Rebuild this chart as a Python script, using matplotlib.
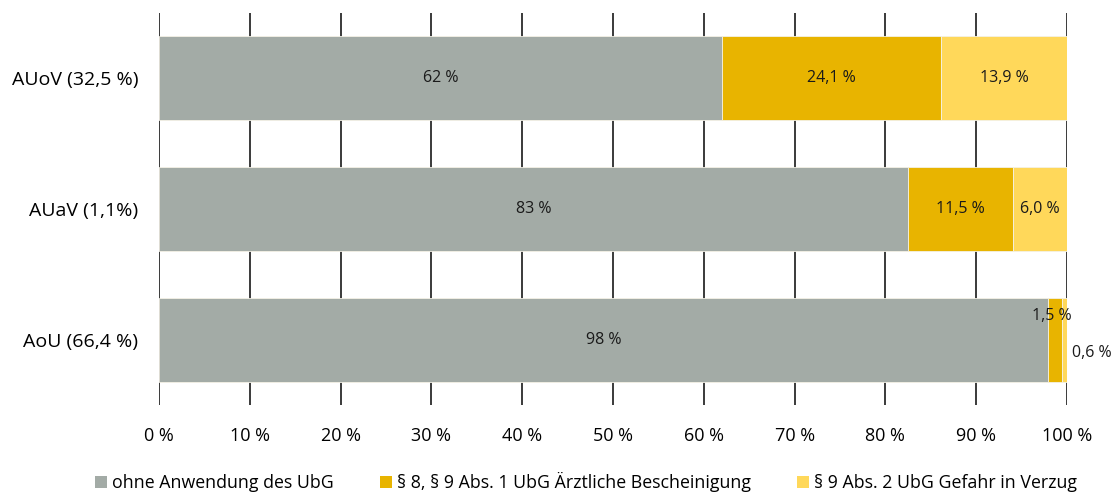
import matplotlib
matplotlib.use("Agg")
import matplotlib.pyplot as plt
from matplotlib.patches import Patch
from decimal import Decimal, ROUND_HALF_UP

plt.rcParams['font.family'] = ['Open Sans', 'DejaVu Sans']

categories = ["AUoV (32,5 %)", "AUaV (1,1%)", "AoU (66,4 %)"]
series_names = ["ohne Anwendung des UbG",
                "§ 8, § 9 Abs. 1 UbG Ärztliche Bescheinigung",
                "§ 9 Abs. 2 UbG Gefahr in Verzug"]
ohne = [62.0, 82.5, 97.9]
aerztlich = [24.1, 11.5, 1.5]
verzug = [13.9, 6.0, 0.6]
xticks = [0, 10, 20, 30, 40, 50, 60, 70, 80, 90, 100]
xtick_labels = [f"{t} %" for t in xticks]

colors = ["#a3aba6", "#e8b400", "#ffd85a"]


def fmt_int(v):
    return f"{int(Decimal(str(v)).quantize(Decimal('1'), rounding=ROUND_HALF_UP))} %"


def fmt_dec(v):
    return f"{v:.1f} %".replace(".", ",")


fig = plt.figure(figsize=(11.17, 4.97), dpi=100)
ax = fig.add_axes([159 / 1117, 92 / 497, 908 / 1117, 392 / 497])

ypos = list(range(len(categories)))
bar_h = 0.64
lefts = [0.0] * len(categories)
for vals, col in zip([ohne, aerztlich, verzug], colors):
    ax.barh(ypos, vals, left=lefts, height=bar_h, color=col,
            edgecolor="#f4f1e6", linewidth=0.6, zorder=2)
    lefts = [l + v for l, v in zip(lefts, vals)]

ax.set_xlim(0, 100)
ax.set_ylim(2.496, -0.496)
ax.set_xticks(xticks)
ax.set_xticklabels(xtick_labels, fontsize=13)
ax.set_yticks(ypos)
ax.set_yticklabels(categories, fontsize=14)
ax.tick_params(axis="x", length=0, pad=16)
ax.tick_params(axis="y", length=0, pad=15)
for s in ax.spines.values():
    s.set_visible(False)
ax.grid(axis="x", color="#2b2b2b", linewidth=1.3, zorder=1)
ax.set_axisbelow(True)

label_kw = dict(ha="center", va="center", fontsize=11.5, color="#1a1a1a", zorder=3)
for i in ypos:
    g, a, v = ohne[i], aerztlich[i], verzug[i]
    ax.text(g / 2, i, fmt_int(g), **label_kw)
    if i < 2:
        ax.text(g + a / 2, i, fmt_dec(a), **label_kw)
        ax.text(g + a + v / 2, i, fmt_dec(v), **label_kw)
    else:
        ax.text(g + a / 2 - 0.35, i - 0.18, fmt_dec(a), **label_kw)
        ax.text(100.5, i + 0.1, fmt_dec(v), ha="left", va="center",
                fontsize=11.5, color="#1a1a1a", zorder=3, clip_on=False)

handles = [Patch(facecolor=c, edgecolor="none") for c in colors]
fig.legend(handles, series_names, loc="lower center", ncol=3, frameon=False,
           fontsize=12.8, handlelength=0.65, handleheight=0.65, handletextpad=0.3,
           columnspacing=2.6, bbox_to_anchor=(0.525, -0.022))

fig.savefig("out.png", dpi=100)
